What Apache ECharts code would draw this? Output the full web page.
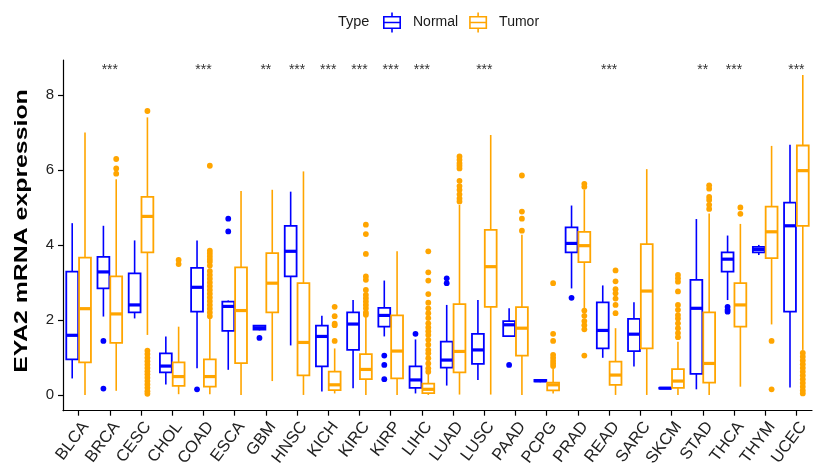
<!DOCTYPE html>
<html>
<head>
<meta charset="utf-8">
<script src="https://cdn.jsdelivr.net/npm/echarts@6/dist/echarts.min.js"></script>
<style>
html,body{margin:0;padding:0;background:#fff;}
#chart{width:815px;height:472px;}
</style>
</head>
<body>
<div id="chart"></div>
<script>
// ---------- data ----------
const categories = ['BLCA','BRCA','CESC','CHOL','COAD','ESCA','GBM','HNSC','KICH','KIRC','KIRP','LIHC','LUAD','LUSC','PAAD','PCPG','PRAD','READ','SARC','SKCM','STAD','THCA','THYM','UCEC'];

// [min, Q1, median, Q3, max]
const normalStats = [
  [0.44,0.95,1.59,3.29,4.58],
  [2.09,2.84,3.28,3.68,4.51],
  [2.04,2.20,2.40,3.24,4.12],
  [0.28,0.60,0.77,1.11,1.56],
  [0.71,2.22,2.87,3.39,4.12],
  [0.67,1.71,2.36,2.49,2.52],
  [1.72,1.74,1.79,1.85,1.86],
  [1.32,3.16,3.83,4.51,5.42],
  [0.09,0.76,1.56,1.85,2.11],
  [0.18,1.20,1.89,2.20,2.53],
  [1.56,1.82,2.12,2.32,3.05],
  [0.04,0.19,0.40,0.76,1.48],
  [0.25,0.73,0.93,1.42,2.40],
  [0.40,0.83,1.20,1.63,2.53],
  [1.55,1.57,1.87,1.97,2.31],
  [0.34,0.36,0.38,0.40,0.42],
  [2.84,3.80,4.04,4.47,5.05],
  [0.99,1.24,1.72,2.47,2.92],
  [0.76,1.17,1.62,2.03,2.47],
  [0.16,0.17,0.18,0.19,0.20],
  [0.15,0.56,2.31,3.07,4.69],
  [2.53,3.29,3.62,3.80,4.25],
  [3.73,3.80,3.88,3.95,4.00],
  [0.20,2.22,4.51,5.13,6.67]
];
const tumorStats = [
  [0.00,0.87,2.30,3.66,7.00],
  [0.11,1.39,2.16,3.16,5.75],
  [1.60,3.80,4.76,5.28,7.40],
  [0.02,0.24,0.49,0.87,1.82],
  [0.02,0.22,0.49,0.95,2.05],
  [0.00,0.85,2.25,3.40,5.44],
  [0.37,2.20,2.98,3.78,5.47],
  [0.00,0.52,1.40,2.98,5.96],
  [0.04,0.13,0.27,0.62,1.24],
  [0.00,0.42,0.68,1.09,2.08],
  [0.00,0.44,1.17,2.12,3.83],
  [0.00,0.05,0.15,0.30,0.58],
  [0.01,0.60,1.16,2.42,5.07],
  [0.01,2.35,3.42,4.40,6.93],
  [0.00,1.05,1.78,2.34,4.27],
  [0.04,0.12,0.27,0.33,0.70],
  [2.31,3.54,3.98,4.35,5.47],
  [0.00,0.27,0.53,0.89,1.78],
  [0.00,1.24,2.77,4.02,6.02],
  [0.00,0.19,0.37,0.69,1.42],
  [0.00,0.33,0.84,2.20,4.84],
  [0.22,1.82,2.40,2.98,4.56],
  [1.88,3.65,4.35,5.02,6.64],
  [1.20,4.51,5.98,6.65,8.53]
];
// outliers per category (same order as categories)
const normalOutliers = [
  [], [1.44,0.17], [], [], [0.15], [4.70,4.36], [1.52], [], [], [], [1.05,0.80,0.42], [1.63],
  [3.11,2.98], [], [0.80], [], [2.59], [], [], [], [], [2.35,2.27,2.22], [], []
];
const tumorOutliers = [
  [],
  [6.29,6.04,5.90],
  [7.57,1.18,1.09,0.99,0.90,0.81,0.72,0.63,0.55,0.46,0.37,0.28,0.19,0.10,0.03],
  [3.60,3.49],
  [6.11,3.85,3.78,3.70,3.62,3.55,3.45,3.30,3.20,3.10,3.00,2.90,2.80,2.70,2.60,2.50,2.40,2.30,2.20,2.10],
  [],
  [],
  [],
  [2.35,2.10,1.90,1.86,1.44],
  [4.54,4.29,3.76,3.16,3.07,2.80,2.67,2.58,2.49,2.40,2.31,2.20,2.14],
  [],
  [3.83,3.27,3.05,2.69,2.46,2.31,2.18,2.05,1.91,1.80,1.70,1.60,1.47,1.34,1.20,1.11,0.98,0.84,0.71,0.62],
  [6.36,6.27,6.18,6.11,6.04,5.71,5.57,5.47,5.35,5.24,5.16],
  [],
  [5.85,4.89,4.70,4.38],
  [2.98,1.63,1.44,1.07,0.99,0.91,0.84,0.77],
  [5.63,5.55,2.25,2.11,1.97,1.86,1.75,1.05],
  [3.32,3.03,2.82,2.71,2.57,2.40,2.18],
  [],
  [3.20,3.11,3.02,2.76,2.40,2.27,2.13,2.04,1.91,1.78,1.65,1.54],
  [5.59,5.50,5.28,5.20,5.07,4.96],
  [5.00,4.83],
  [1.44,0.15],
  [1.12,1.02,0.92,0.82,0.72,0.62,0.52,0.42,0.32,0.22,0.12,0.04]
];
const sigLabels = ['','***','','','***','','**','***','***','***','***','***','','***','','','','***','','','**','***','','***'];
const sigLevel = 8.66;
const yTicks = [0,2,4,6,8];
const seriesNames = ['Normal','Tumor'];
const seriesColors = ['#0000FF','#FFA500'];

// ---------- rendering ----------
const FONT = '"Liberation Sans", Arial, Helvetica, sans-serif';
const OFFSET = 0.205, HALFW = 0.19;

function boxRenderer(side, color) {
  return function (params, api) {
    const cat = api.value(0);
    const band = api.size([1, 0])[0];
    const cx = api.coord([cat, 0])[0] + side * band * OFFSET;
    const hw = band * HALFW;
    const yMin = api.coord([cat, api.value(1)])[1];
    const yQ1 = api.coord([cat, api.value(2)])[1];
    const yMed = api.coord([cat, api.value(3)])[1];
    const yQ3 = api.coord([cat, api.value(4)])[1];
    const yMax = api.coord([cat, api.value(5)])[1];
    return {
      type: 'group',
      children: [
        {type:'line', shape:{x1:cx,y1:yMax,x2:cx,y2:yQ3}, style:{stroke:color,lineWidth:1.6}},
        {type:'line', shape:{x1:cx,y1:yQ1,x2:cx,y2:yMin}, style:{stroke:color,lineWidth:1.6}},
        {type:'rect', shape:{x:cx-hw,y:yQ3,width:2*hw,height:Math.max(yQ1-yQ3,0.5)}, style:{fill:'#fff',stroke:color,lineWidth:1.8}},
        {type:'line', shape:{x1:cx-hw,y1:yMed,x2:cx+hw,y2:yMed}, style:{stroke:color,lineWidth:3.2}}
      ]
    };
  };
}
function pointRenderer(side, color) {
  return function (params, api) {
    const cat = api.value(0);
    const band = api.size([1, 0])[0];
    const p = api.coord([cat, api.value(1)]);
    return {type:'circle', shape:{cx:p[0] + side*band*OFFSET, cy:p[1], r:2.9}, style:{fill:color}};
  };
}

function boxData(stats){ return stats.map((s,i)=>[i].concat(s)); }
function outlierData(outs){ const d=[]; outs.forEach((arr,i)=>arr.forEach(v=>d.push([i,v]))); return d; }

const series = [];
[normalOutliers, tumorOutliers].forEach((outs, k) => {
  const side = k === 0 ? -1 : 1;
  series.push({
    name: seriesNames[k], type:'custom', renderItem: pointRenderer(side, seriesColors[k]),
    data: outlierData(outs), encode:{x:0,y:1}, itemStyle:{color:seriesColors[k]}, z:2, silent:true
  });
});
[normalStats, tumorStats].forEach((stats, k) => {
  const side = k === 0 ? -1 : 1;
  series.push({
    name: seriesNames[k], type:'custom', renderItem: boxRenderer(side, seriesColors[k]),
    data: boxData(stats), encode:{x:0,y:[1,2,3,4,5]}, itemStyle:{color:seriesColors[k]}, z:3, silent:true
  });
});
series.push({
  name:'sig', type:'custom', silent:true, z:4,
  data: sigLabels.map((s,i)=>[i, sigLevel]),
  encode:{x:0,y:1},
  renderItem: function(params, api){
    const i = api.value(0);
    const txt = sigLabels[i];
    if (!txt) return null;
    const p = api.coord([i, api.value(1)]);
    return {type:'text', x:p[0], y:p[1], style:{text:txt, fill:'#333', font:'14px ' + FONT, align:'center', verticalAlign:'middle'}};
  }
});

// legend icon: boxplot glyph outline (18 x 20)
const boxIcon = 'path://M8.2,0L9.8,0L9.8,3.5L8.2,3.5Z' +
  'M0,3.5L18,3.5L18,16.5L0,16.5Z' +
  'M1.6,5.1L1.6,14.9L16.4,14.9L16.4,5.1Z' +
  'M1.6,9.2L16.4,9.2L16.4,10.8L1.6,10.8Z' +
  'M8.2,16.5L9.8,16.5L9.8,20L8.2,20Z';

const chart = echarts.init(document.getElementById('chart'), null, {renderer:'canvas'});
chart.setOption({
  animation:false,
  backgroundColor:'#fff',
  textStyle:{fontFamily:FONT},
  title:{text:'Type', left:333, top:9, textStyle:{fontSize:14.5, fontWeight:'normal', color:'#1a1a1a', fontFamily:FONT}},
  legend:{
    left:378, top:7.5, itemWidth:18, itemHeight:20, itemGap:11,
    icon: boxIcon,
    data: seriesNames.map((n,k)=>({name:n, icon:boxIcon, itemStyle:{color:seriesColors[k], borderWidth:0}})),
    textStyle:{fontSize:14, color:'#1a1a1a', fontFamily:FONT, padding:[0,0,0,7]},
    selectedMode:false
  },
  grid:{left:63, right:3, top:60, bottom:61.3, containLabel:false},
  xAxis:{
    type:'category', data:categories,
    axisLine:{show:true, onZero:false, lineStyle:{color:'#000', width:1.2}},
    axisTick:{show:true, alignWithLabel:true, length:5, lineStyle:{color:'#000', width:1.2}},
    axisLabel:{interval:0, rotate:53, fontSize:16.5, color:'#222', margin:8, align:'right', verticalAlign:'top', fontFamily:FONT},
    splitLine:{show:false}
  },
  yAxis:{
    type:'value', min:-0.42, max:8.93,
    axisLine:{show:true, lineStyle:{color:'#000', width:1.2}},
    axisTick:{show:true, length:5, customValues:yTicks, lineStyle:{color:'#000', width:1.2}},
    axisLabel:{customValues:yTicks, fontSize:15, color:'#222', margin:9, fontFamily:FONT},
    splitLine:{show:false}
  },
  graphic:[{
    type:'text', x:22, y:231, rotation:Math.PI/2, scaleX:1.38, scaleY:1,
    style:{text:'EYA2 mRNA expression', font:'bold 18px ' + FONT, fill:'#000', align:'center', verticalAlign:'middle'}
  }],
  series: series
});
</script>
</body>
</html>
